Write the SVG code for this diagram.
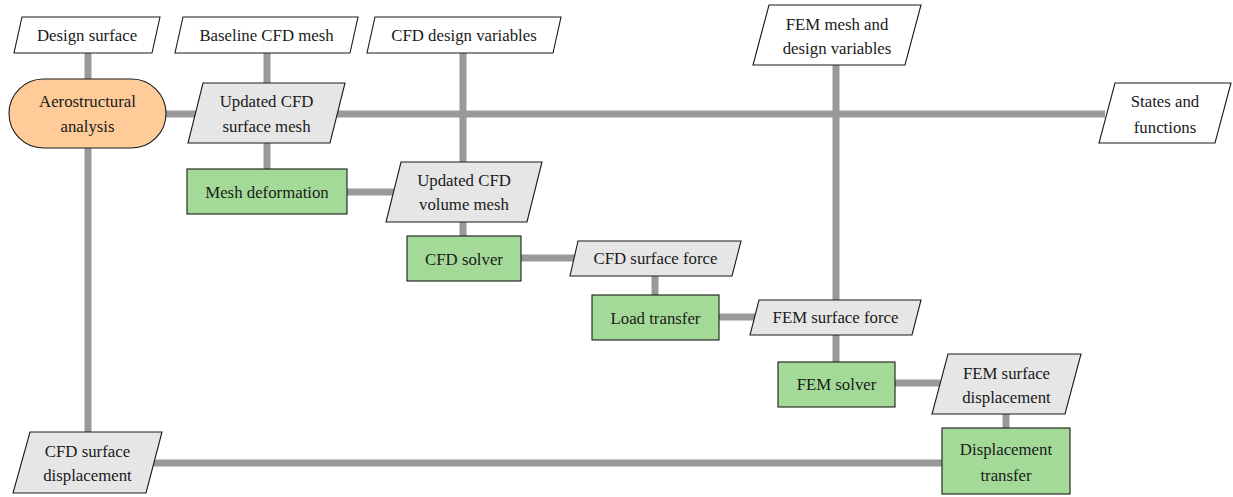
<svg xmlns="http://www.w3.org/2000/svg" width="1233" height="497" viewBox="0 0 1233 497">
  <style>
    .data { fill: #ffffff; stroke: #1a1a1a; stroke-width: 1.1; }
    .state { fill: #e6e6e6; stroke: #1a1a1a; stroke-width: 1.1; }
    .comp { fill: #a4da98; stroke: #1a1a1a; stroke-width: 1.1; }
    .driver { fill: #ffcc99; stroke: #1a1a1a; stroke-width: 1.1; }
    .link { stroke: #999999; stroke-width: 7; fill: none; }
    .lbl { font-family: "Liberation Serif", "Times New Roman", serif; font-size: 16.8px; fill: #1a1a1a; text-anchor: middle; dominant-baseline: central; }
  </style>

  <!-- data-flow connectors, drawn beneath the nodes -->
  <g id="connectors">
    <line class="link" x1="88" y1="53" x2="88" y2="432"/>
    <line class="link" x1="166" y1="114" x2="1105" y2="114"/>
    <line class="link" x1="267" y1="53" x2="267" y2="169"/>
    <line class="link" x1="463" y1="53" x2="463" y2="236"/>
    <line class="link" x1="347" y1="192" x2="395" y2="192"/>
    <line class="link" x1="521" y1="258" x2="575" y2="258"/>
    <line class="link" x1="655" y1="276" x2="655" y2="295"/>
    <line class="link" x1="719" y1="317" x2="755" y2="317"/>
    <line class="link" x1="836" y1="65" x2="836" y2="362"/>
    <line class="link" x1="895" y1="383" x2="940" y2="383"/>
    <line class="link" x1="1006" y1="414" x2="1006" y2="428"/>
    <line class="link" x1="150" y1="463" x2="942" y2="463"/>
  </g>

  <g id="nodes">
    <g id="design-surface">
      <polygon class="data" points="22,17 160,17 152,53 14,53"/>
      <text class="lbl" x="87" y="35">Design surface</text>
    </g>

    <g id="baseline-cfd-mesh">
      <polygon class="data" points="183,17 358,17 350,53 175,53"/>
      <text class="lbl" x="266.5" y="35">Baseline CFD mesh</text>
    </g>

    <g id="cfd-design-variables">
      <polygon class="data" points="375,17 561,17 553,53 367,53"/>
      <text class="lbl" x="464" y="35">CFD design variables</text>
    </g>

    <g id="fem-mesh-and-design-variables">
      <polygon class="data" points="769,5 921,5 905,65 753,65"/>
      <text class="lbl" x="837" y="24">FEM mesh and</text>
      <text class="lbl" x="837" y="48">design variables</text>
    </g>

    <g id="aerostructural-analysis">
      <rect class="driver" x="9" y="79" width="157" height="69" rx="34.5" ry="34.5"/>
      <text class="lbl" x="87.5" y="101">Aerostructural</text>
      <text class="lbl" x="87.5" y="126">analysis</text>
    </g>

    <g id="updated-cfd-surface-mesh">
      <polygon class="state" points="203,83 345,83 330,143 188,143"/>
      <text class="lbl" x="266.5" y="101">Updated CFD</text>
      <text class="lbl" x="266.5" y="126">surface mesh</text>
    </g>

    <g id="states-and-functions">
      <polygon class="data" points="1115,83 1231,83 1215,143 1099,143"/>
      <text class="lbl" x="1165" y="101">States and</text>
      <text class="lbl" x="1165" y="127">functions</text>
    </g>

    <g id="mesh-deformation">
      <rect class="comp" x="187" y="169" width="160" height="45"/>
      <text class="lbl" x="267" y="192">Mesh deformation</text>
    </g>

    <g id="updated-cfd-volume-mesh">
      <polygon class="state" points="401,162 542,162 527,222 386,222"/>
      <text class="lbl" x="464" y="180">Updated CFD</text>
      <text class="lbl" x="464" y="204">volume mesh</text>
    </g>

    <g id="cfd-solver">
      <rect class="comp" x="407" y="236" width="114" height="45"/>
      <text class="lbl" x="464" y="259">CFD solver</text>
    </g>

    <g id="cfd-surface-force">
      <polygon class="state" points="578,241 741,241 732,276 570,276"/>
      <text class="lbl" x="655.5" y="258.5">CFD surface force</text>
    </g>

    <g id="load-transfer">
      <rect class="comp" x="592" y="295" width="127" height="45"/>
      <text class="lbl" x="655.5" y="318">Load transfer</text>
    </g>

    <g id="fem-surface-force">
      <polygon class="state" points="759,300 921,300 912,335 750,335"/>
      <text class="lbl" x="835.5" y="317.5">FEM surface force</text>
    </g>

    <g id="fem-solver">
      <rect class="comp" x="778" y="362" width="117" height="45"/>
      <text class="lbl" x="836.5" y="384">FEM solver</text>
    </g>

    <g id="fem-surface-displacement">
      <polygon class="state" points="948,354 1081,354 1065,414 932,414"/>
      <text class="lbl" x="1006.5" y="373">FEM surface</text>
      <text class="lbl" x="1006.5" y="397">displacement</text>
    </g>

    <g id="displacement-transfer">
      <rect class="comp" x="942" y="428" width="128" height="66"/>
      <text class="lbl" x="1006" y="449">Displacement</text>
      <text class="lbl" x="1006" y="475">transfer</text>
    </g>

    <g id="cfd-surface-displacement">
      <polygon class="state" points="30,432 162,432 146,493 13,493"/>
      <text class="lbl" x="87.5" y="451">CFD surface</text>
      <text class="lbl" x="87.5" y="475">displacement</text>
    </g>
  </g>
</svg>
